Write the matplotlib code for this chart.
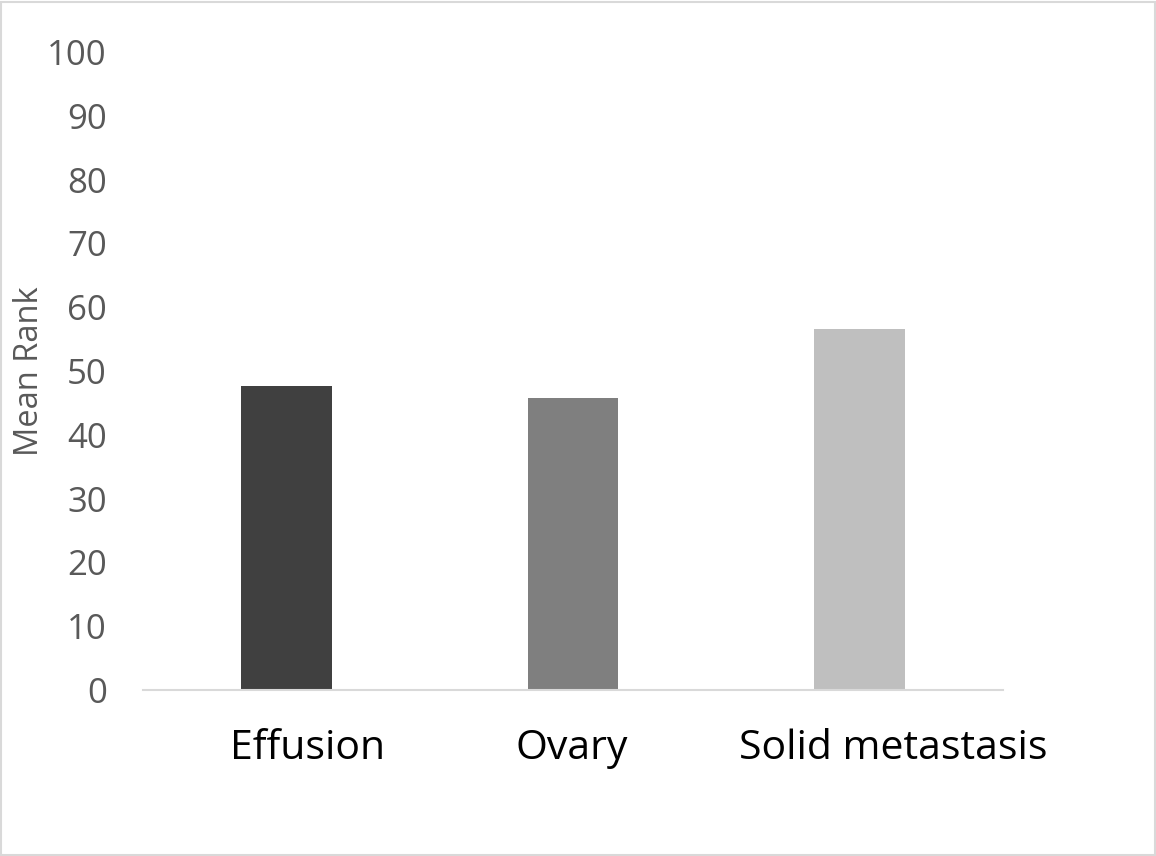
import matplotlib
matplotlib.use("Agg")
import matplotlib.pyplot as plt
from matplotlib.transforms import ScaledTranslation

categories = ["Effusion", "Ovary", "Solid metastasis"]
mean_rank = [47.6, 45.8, 56.6]
bar_colors = ["#404040", "#7f7f7f", "#bfbfbf"]
yticks = list(range(0, 101, 10))

plt.rcParams["font.family"] = ["Open Sans", "DejaVu Sans"]

fig = plt.figure(figsize=(11.56, 8.56), dpi=100)
ax = fig.add_axes([0.1237, 0.1939, 0.744, 0.7454])

x = range(len(categories))
ax.bar(x, mean_rank, width=0.316, color=bar_colors)

ax.set_xlim(-0.5, 2.5)
ax.set_ylim(0, 100)
ax.set_yticks(yticks)
ax.set_xticks(list(x))
ax.set_xticklabels(categories, fontsize=29.5, color="black")
ax.tick_params(axis="y", length=0, pad=26, labelsize=25, labelcolor="#595959")
ax.tick_params(axis="x", length=0, pad=28)

# category labels sit a little right of the bar centres
label_shift = [0.21, -0.01, 0.34]
for lab, dx in zip(ax.get_xticklabels(), label_shift):
    lab.set_transform(lab.get_transform() + ScaledTranslation(dx, 0, fig.dpi_scale_trans))

for side in ["top", "right", "left"]:
    ax.spines[side].set_visible(False)
ax.spines["bottom"].set_color("#d9d9d9")
ax.spines["bottom"].set_linewidth(1.5)

ax.set_ylabel("Mean Rank", fontsize=23.5, color="#595959", labelpad=1)

# thin frame around the whole chart area
fig.patches.append(plt.Rectangle((0.001, 0.001), 0.998, 0.997, transform=fig.transFigure,
                                 fill=False, edgecolor="#d9d9d9", linewidth=1.5))

fig.savefig("out.png", dpi=100)
